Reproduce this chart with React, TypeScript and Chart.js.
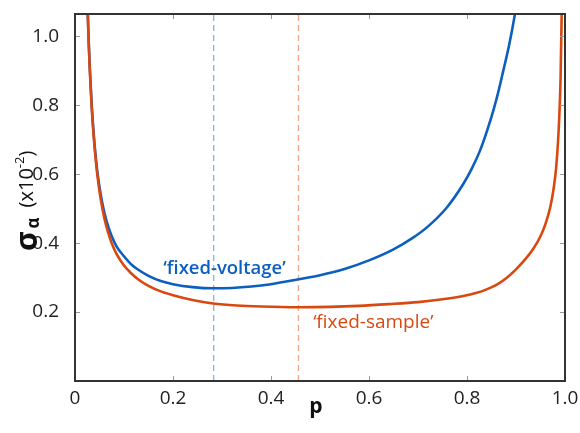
import React, { useEffect, useRef } from "react";
import { Chart, registerables } from "chart.js";

Chart.register(...registerables);

// ---- data ----
const fixedSampleP = [0.02, 0.024, 0.026, 0.028, 0.03, 0.034, 0.038, 0.042, 0.046, 0.052, 0.06, 0.068, 0.075, 0.085, 0.1, 0.115, 0.13, 0.15, 0.175, 0.2, 0.24, 0.282, 0.33, 0.38, 0.455, 0.52, 0.58, 0.64, 0.7, 0.75, 0.79, 0.82, 0.84, 0.86, 0.88, 0.9, 0.92, 0.935, 0.95, 0.96, 0.97, 0.977, 0.982, 0.986, 0.989, 0.991, 0.993, 0.995];
const fixedSampleSigma = [1.5, 1.165, 1.065, 0.98, 0.908, 0.796, 0.712, 0.646, 0.593, 0.532, 0.472, 0.429, 0.4, 0.368, 0.335, 0.312, 0.294, 0.276, 0.26, 0.249, 0.235, 0.225, 0.219, 0.216, 0.214, 0.215, 0.218, 0.223, 0.229, 0.237, 0.246, 0.256, 0.266, 0.279, 0.298, 0.324, 0.355, 0.383, 0.42, 0.455, 0.505, 0.56, 0.62, 0.7, 0.79, 0.88, 1.05, 1.25];

const fixedVoltageP = [0.02, 0.024, 0.026, 0.028, 0.03, 0.034, 0.038, 0.042, 0.046, 0.052, 0.06, 0.068, 0.075, 0.085, 0.1, 0.115, 0.13, 0.15, 0.175, 0.2, 0.24, 0.282, 0.32, 0.36, 0.4, 0.456, 0.5, 0.55, 0.6, 0.65, 0.69, 0.72, 0.758, 0.793, 0.81, 0.827, 0.84, 0.854, 0.865, 0.874, 0.886, 0.898, 0.905, 0.915];
const fixedVoltageSigma = [1.51, 1.17, 1.07, 0.985, 0.915, 0.803, 0.72, 0.655, 0.603, 0.545, 0.488, 0.447, 0.42, 0.39, 0.362, 0.338, 0.322, 0.305, 0.29, 0.281, 0.2725, 0.269, 0.27, 0.274, 0.281, 0.295, 0.307, 0.325, 0.35, 0.382, 0.416, 0.448, 0.502, 0.573, 0.617, 0.67, 0.722, 0.786, 0.845, 0.9, 0.975, 1.066, 1.13, 1.28];

const optimumVoltageP = 0.283;
const optimumSampleP = 0.456;

const xTicks = [0, 0.2, 0.4, 0.6, 0.8, 1.0];
const yTicks = [0.2, 0.4, 0.6, 0.8, 1.0];
const yMin = 0;
const yMax = 1.065;

const labelVoltage = "\u2018fixed-voltage\u2019";
const labelSample = "\u2018fixed-sample\u2019";

const BLUE = "#0a5fbf";
const ORANGE = "#d9480f";
const BLUE_DASH = "#7db7e8";
const ORANGE_DASH = "#f5a585";
const FONT = "'Open Sans', 'Noto Sans', sans-serif";

const toXY = (xs: number[], ys: number[]) => xs.map((x, i) => ({ x, y: ys[i] }));

const decorPlugin = {
  id: "decor",
  afterDraw(chart: any) {
    const { ctx, chartArea: a, scales } = chart;
    const xs = scales.x;
    const ys = scales.y;
    const L = Math.round(a.left);
    const R = Math.round(a.right);
    const T = Math.round(a.top);
    const B = Math.round(a.bottom);
    ctx.save();
    ctx.setLineDash([]);
    // inward ticks
    ctx.fillStyle = "#9a9a9a";
    const tl = 5;
    xTicks.forEach((v) => {
      if (v <= 0 || v >= 1) return;
      const px = Math.round(xs.getPixelForValue(v));
      ctx.fillRect(px, B - tl, 1, tl);
      ctx.fillRect(px, T, 1, tl);
    });
    yTicks.forEach((v) => {
      const py = Math.round(ys.getPixelForValue(v));
      ctx.fillRect(L, py, tl, 1);
      ctx.fillRect(R - tl, py, tl, 1);
    });
    // box
    ctx.fillStyle = "#333333";
    ctx.fillRect(L - 1, T - 1, R - L + 2, 2);
    ctx.fillRect(L - 1, B - 1, R - L + 2, 2);
    ctx.fillRect(L - 1, T - 1, 2, B - T + 2);
    ctx.fillRect(R - 1, T - 1, 2, B - T + 2);

    // curve labels
    ctx.textBaseline = "alphabetic";
    ctx.textAlign = "left";
    ctx.fillStyle = BLUE;
    ctx.font = `600 18.5px ${FONT}`;
    ctx.fillText(labelVoltage, xs.getPixelForValue(0.18), ys.getPixelForValue(0.31));
    ctx.fillStyle = ORANGE;
    ctx.font = `400 19px ${FONT}`;
    ctx.fillText(labelSample, xs.getPixelForValue(0.486), ys.getPixelForValue(0.155));

    // x title
    ctx.fillStyle = "#111";
    ctx.textAlign = "center";
    ctx.font = `700 21px ${FONT}`;
    ctx.fillText("p", (a.left + a.right) / 2 - 4, 413);

    // y title (rotated)
    ctx.translate(37, 251);
    ctx.rotate(-Math.PI / 2);
    ctx.textAlign = "left";
    ctx.font = `700 30px ${FONT}`;
    ctx.fillText("\u03c3", 0, 0);
    let x = ctx.measureText("\u03c3").width + 3;
    ctx.font = `700 17px ${FONT}`;
    ctx.fillText("\u03b1", x, 2);
    x += ctx.measureText("\u03b1").width + 10;
    ctx.font = `400 20px ${FONT}`;
    ctx.fillText("(x10", x, -4);
    x += ctx.measureText("(x10").width;
    ctx.font = `400 13px ${FONT}`;
    ctx.fillText("-2", x, -13);
    x += ctx.measureText("-2").width;
    ctx.font = `400 20px ${FONT}`;
    ctx.fillText(")", x, -4);
    ctx.restore();
  },
};

export default function App() {
  const ref = useRef<HTMLCanvasElement | null>(null);
  useEffect(() => {
    document.body.style.margin = "0";
    const canvas = ref.current;
    if (!canvas) return;
    const chart = new Chart(canvas, {
      type: "line",
      data: {
        datasets: [
          {
            label: "fixed-sample",
            data: toXY(fixedSampleP, fixedSampleSigma),
            borderColor: ORANGE,
            borderWidth: 2.6,
            pointRadius: 0,
            cubicInterpolationMode: "monotone",
            order: 0,
            clip: 0,
          },
          {
            label: "fixed-voltage",
            data: toXY(fixedVoltageP, fixedVoltageSigma),
            borderColor: BLUE,
            borderWidth: 2.6,
            pointRadius: 0,
            cubicInterpolationMode: "monotone",
            order: 1,
            clip: 0,
          },
          {
            label: "opt-voltage",
            data: [
              { x: optimumVoltageP, y: yMin },
              { x: optimumVoltageP, y: yMax },
            ],
            borderColor: BLUE_DASH,
            borderWidth: 1.3,
            borderDash: [6, 4],
            pointRadius: 0,
            order: 2,
          },
          {
            label: "opt-sample",
            data: [
              { x: optimumSampleP, y: yMin },
              { x: optimumSampleP, y: yMax },
            ],
            borderColor: ORANGE_DASH,
            borderWidth: 1.3,
            borderDash: [6, 4],
            pointRadius: 0,
            order: 3,
          },
        ],
      } as any,
      options: {
        responsive: false,
        animation: false,
        layout: { padding: { top: 14, right: 15, left: 0, bottom: 0 } },
        plugins: { legend: { display: false }, tooltip: { enabled: false } },
        scales: {
          x: {
            type: "linear",
            min: 0,
            max: 1,
            grid: { display: false },
            border: { display: false },
            afterBuildTicks: (s: any) => {
              s.ticks = xTicks.map((v) => ({ value: v }));
            },
            afterFit: (s: any) => {
              s.height = 52;
              s.paddingLeft = 0;
              s.paddingRight = 0;
            },
            ticks: {
              padding: -2,
              color: "#222",
              font: { family: FONT, size: 19 },
              maxRotation: 0,
              callback: (v: any) => (Number(v) === 0 ? "0" : Number(v).toFixed(1)),
            },
          },
          y: {
            type: "linear",
            min: yMin,
            max: yMax,
            grid: { display: false },
            border: { display: false },
            afterBuildTicks: (s: any) => {
              s.ticks = yTicks.map((v) => ({ value: v }));
            },
            afterFit: (s: any) => {
              s.width = 75;
              s.paddingTop = 0;
              s.paddingBottom = 0;
            },
            ticks: {
              padding: 8,
              color: "#222",
              font: { family: FONT, size: 19 },
              callback: (v: any) => Number(v).toFixed(1),
            },
          },
        },
      } as any,
      plugins: [decorPlugin],
    });
    return () => chart.destroy();
  }, []);
  return (
    <div style={{ width: 580, height: 433 }}>
      <canvas ref={ref} width={580} height={433} style={{ display: "block" }} />
    </div>
  );
}
